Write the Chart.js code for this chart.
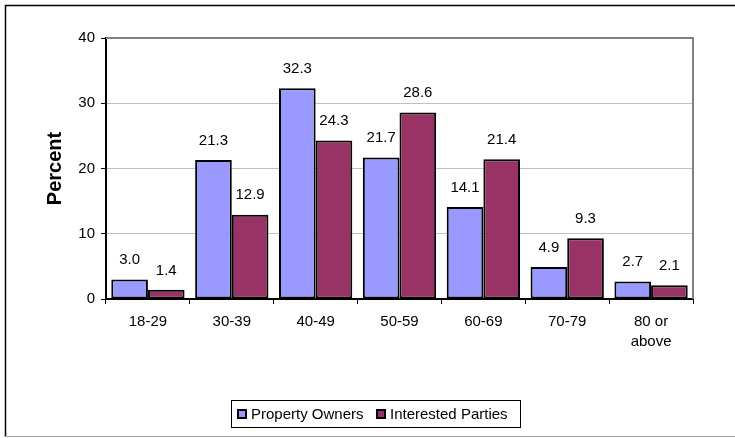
<!DOCTYPE html>
<html>
<head>
<meta charset="utf-8">
<script src="https://cdn.jsdelivr.net/npm/chart.js@4/dist/chart.umd.min.js"></script>
<style>
  html, body { margin: 0; padding: 0; background: #fff; }
  #wrap { width: 735px; height: 438px; position: relative; }
</style>
</head>
<body>
<div id="wrap"><canvas id="c" width="735" height="438"></canvas></div>
<script>
// Age groups and shares (percent) per respondent group
const categories = ['18-29', '30-39', '40-49', '50-59', '60-69', '70-79', ['80 or', 'above']];
const propertyOwners = [3.0, 21.3, 32.3, 21.7, 14.1, 4.9, 2.7];
const interestedParties = [1.4, 12.9, 24.3, 28.6, 21.4, 9.3, 2.1];
const yTicks = [0, 10, 20, 30, 40];
const seriesNames = ['Property Owners', 'Interested Parties'];

const FONT = '"Liberation Sans", Arial, sans-serif';

// White page with the frame lines
const framePlugin = {
  id: 'frame',
  beforeDraw(chart) {
    const ctx = chart.ctx;
    ctx.save();
    ctx.fillStyle = '#fff';
    ctx.fillRect(0, 0, chart.width, chart.height);
    ctx.lineWidth = 1.5;
    ctx.strokeStyle = '#000';
    ctx.beginPath();
    ctx.moveTo(5.5, 437);
    ctx.lineTo(5.5, 5.5);
    ctx.lineTo(chart.width, 5.5);
    ctx.stroke();
    ctx.strokeStyle = '#a0a0a0';
    ctx.lineWidth = 1;
    ctx.beginPath();
    ctx.moveTo(5, 436.5);
    ctx.lineTo(chart.width, 436.5);
    ctx.stroke();
    ctx.restore();
  },
  afterDraw(chart) {
    // gray top and right edges of the plot area
    const a = chart.chartArea;
    const ctx = chart.ctx;
    ctx.save();
    ctx.strokeStyle = '#808080';
    ctx.lineWidth = 2;
    ctx.beginPath();
    ctx.moveTo(a.left, a.top);
    ctx.lineTo(a.right, a.top);
    ctx.lineTo(a.right, a.bottom);
    ctx.stroke();
    ctx.restore();
  }
};

// Value text above every bar
const valueLabels = {
  id: 'valueLabels',
  afterDatasetsDraw(chart) {
    const ctx = chart.ctx;
    ctx.save();
    ctx.font = '15px ' + FONT;
    ctx.fillStyle = '#000';
    ctx.textAlign = 'center';
    ctx.textBaseline = 'middle';
    chart.data.datasets.forEach((ds, i) => {
      chart.getDatasetMeta(i).data.forEach((bar, j) => {
        ctx.fillText(ds.data[j].toFixed(1), bar.x, bar.y - 19.5);
      });
    });
    ctx.restore();
  }
};

// Boxed legend below the plot
const boxLegend = {
  id: 'boxLegend',
  afterDraw(chart) {
    const ctx = chart.ctx;
    ctx.save();
    ctx.strokeStyle = '#000';
    ctx.lineWidth = 1;
    ctx.strokeRect(231.5, 400.5, 289, 27);
    ctx.font = '15px ' + FONT;
    ctx.textBaseline = 'middle';
    ctx.textAlign = 'left';
    const starts = [237, 376];
    chart.data.datasets.forEach((ds, i) => {
      const x = starts[i];
      const cy = 414;
      ctx.fillStyle = ds.backgroundColor;
      ctx.fillRect(x, cy - 5, 10, 10);
      ctx.lineWidth = 2;
      ctx.strokeStyle = '#000';
      ctx.strokeRect(x + 1, cy - 4, 8, 8);
      ctx.fillStyle = '#000';
      ctx.fillText(ds.label, x + 14, cy + 0.5);
    });
    ctx.restore();
  }
};

new Chart(document.getElementById('c'), {
  type: 'bar',
  data: {
    labels: categories,
    datasets: [
      {
        label: seriesNames[0],
        data: propertyOwners,
        backgroundColor: '#9999FF',
        borderColor: '#000',
        borderWidth: 2,
        borderSkipped: false
      },
      {
        label: seriesNames[1],
        data: interestedParties,
        backgroundColor: '#993366',
        borderColor: '#000',
        borderWidth: 2,
        borderSkipped: false
      }
    ]
  },
  options: {
    responsive: false,
    animation: false,
    devicePixelRatio: 1,
    layout: { padding: { left: 0, right: 42, top: 38, bottom: 0 } },
    datasets: { bar: { categoryPercentage: 0.874, barPercentage: 1 } },
    plugins: {
      legend: { display: false },
      tooltip: { enabled: false }
    },
    scales: {
      x: {
        afterFit(scale) { scale.height = 139; },
        grid: {
          offset: true,
          drawOnChartArea: false,
          tickLength: 5,
          tickColor: '#000',
          tickWidth: 1
        },
        border: { color: '#000', width: 2 },
        ticks: {
          color: '#000',
          padding: 8,
          maxRotation: 0,
          autoSkip: false,
          font: { family: FONT, size: 15, lineHeight: 1.33 }
        }
      },
      y: {
        min: 0,
        max: 40,
        afterFit(scale) { scale.width = 106; },
        afterBuildTicks(scale) { scale.ticks = yTicks.map(v => ({ value: v })); },
        grid: {
          color: '#c0c0c0',
          lineWidth: 1,
          tickLength: 5,
          tickColor: '#000',
          tickWidth: 1
        },
        border: { color: '#000', width: 2 },
        ticks: {
          color: '#000',
          padding: 6,
          font: { family: FONT, size: 15 }
        },
        title: {
          display: true,
          text: 'Percent',
          color: '#000',
          padding: { top: 43, bottom: 0 },
          font: { family: FONT, size: 20, weight: 'bold', lineHeight: 1.2 }
        }
      }
    }
  },
  plugins: [framePlugin, valueLabels, boxLegend]
});
</script>
</body>
</html>
